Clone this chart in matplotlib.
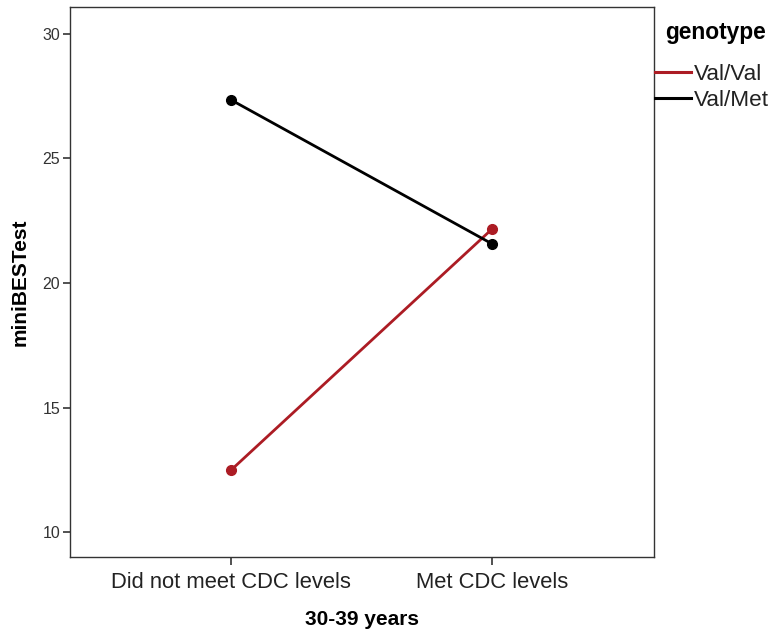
import matplotlib
matplotlib.use('Agg')
import matplotlib.pyplot as plt

plt.rcParams['font.family'] = ['Liberation Sans', 'DejaVu Sans']

# data
categories = ['Did not meet CDC levels', 'Met CDC levels']
val_val = [12.49, 22.17]
val_met = [27.35, 21.57]
genotypes = ['Val/Val', 'Val/Met']
colors = ['#ac1c24', '#000000']
yticks = [10, 15, 20, 25, 30]

fig = plt.figure(figsize=(7.74, 6.4), dpi=100)
ax = fig.add_axes([70/774, 1-557/640, (654-70)/774, (557-7)/640])

x = range(len(categories))
for vals, name, c in zip([val_val, val_met], genotypes, colors):
    ax.plot(x, vals, color=c, lw=2.0, marker='o', ms=7, label=name)

ax.set_xlim(-0.617, 1.62)
ax.set_ylim(9.0, 31.08)
ax.set_xticks(list(x))
ax.set_xticklabels(categories, fontsize=15.8, color='#222222')
ax.set_yticks(yticks)
ax.set_yticklabels([str(t) for t in yticks], fontsize=11.5, color='#333333')
ax.tick_params(axis='y', length=5, width=1.2, color='#333333', pad=2)
ax.tick_params(axis='x', length=6, width=1.2, color='#333333', pad=5)
for s in ax.spines.values():
    s.set_color('#333333')
    s.set_linewidth(1.0)

ax.set_xlabel('30-39 years', fontsize=15, fontweight='bold', labelpad=12)
ax.set_ylabel('miniBESTest', fontsize=15, fontweight='bold', labelpad=9)

# legend: title as text, entries as legend
fig.text(665/774, 1-32/640, 'genotype', fontsize=16.4, fontweight='bold',
         va='center', ha='left')
leg = fig.legend(loc='upper left', bbox_to_anchor=(655/774, 1-64/640), frameon=False,
                 fontsize=16.2, handlelength=1.6, handletextpad=0.12,
                 borderaxespad=0, borderpad=0, labelspacing=0.2)
for h in leg.get_lines():
    h.set_marker('')
    h.set_linewidth(2.2)
for t in leg.get_texts():
    t.set_color('#222222')

fig.savefig('out.png', dpi=100)
